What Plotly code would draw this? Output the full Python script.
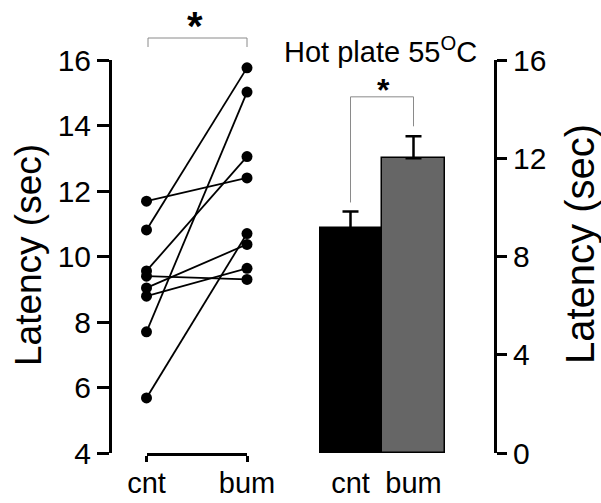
import plotly.graph_objects as go

# ---- data ----
groups = ["cnt", "bum"]
cnt_vals = [11.69, 10.81, 9.56, 9.40, 9.04, 8.79, 7.70, 5.68]
bum_vals = [12.40, 15.76, 13.05, 9.30, 10.37, 9.64, 15.02, 10.70]
bar_means = [9.15, 12.0]
bar_err = [0.68, 0.90]
bar_colors = ["#000000", "#666666"]
left_ticks = [4, 6, 8, 10, 12, 14, 16]
right_ticks = [0, 4, 8, 12, 16]

W, H = 601, 503
def px(x):
    return x / W
def py(y):
    return 1 - y / H

FONT = "Arial, Liberation Sans, sans-serif"
ydom = [py(453), py(60)]

fig = go.Figure()

# paired lines
lx, ly = [], []
for c, b in zip(cnt_vals, bum_vals):
    lx += [0, 1, None]
    ly += [c, b, None]
fig.add_trace(go.Scatter(x=lx, y=ly, mode="lines+markers", xaxis="x", yaxis="y",
                         line=dict(color="black", width=1.8),
                         marker=dict(color="black", size=11),
                         cliponaxis=False, showlegend=False, hoverinfo="skip"))

fig.add_trace(go.Bar(x=[0, 1], y=bar_means, xaxis="x2", yaxis="y2",
                     marker=dict(color=bar_colors, line=dict(color="black", width=1.5)),
                     error_y=dict(type="data", symmetric=False, array=bar_err,
                                  arrayminus=[0, 0], color="black", thickness=2.5, width=8),
                     showlegend=False, hoverinfo="skip"))

fig.update_layout(
    width=W, height=H,
    margin=dict(l=0, r=0, t=0, b=0),
    paper_bgcolor="white", plot_bgcolor="white",
    font=dict(family=FONT, color="black"),
    bargap=0,
    xaxis=dict(domain=[px(146.5), px(247)], range=[0, 1], anchor="y",
               tickvals=[0, 1], ticktext=groups, showline=True, linecolor="black",
               linewidth=3, ticks="outside", ticklen=6, tickwidth=3, tickcolor="black",
               ticklabelstandoff=-4,
               showgrid=False, zeroline=False, tickfont=dict(size=29), automargin=False),
    yaxis=dict(domain=ydom, range=[4, 16], anchor="free", position=px(110),
               tickvals=left_ticks, showline=True, linecolor="black", linewidth=3,
               ticks="outside", ticklen=12, tickwidth=3, tickcolor="black",
               showgrid=False, zeroline=False, tickfont=dict(size=30), automargin=False),
    xaxis2=dict(domain=[px(319), px(445)], range=[-0.5, 1.5], anchor="y2",
                tickvals=[0, 1], ticktext=groups, showline=False, ticks="",
                ticklabelstandoff=10,
                showgrid=False, zeroline=False, tickfont=dict(size=29), automargin=False),
    yaxis2=dict(domain=ydom, range=[0, 16], anchor="free", position=px(495), side="right",
                tickvals=right_ticks, showline=True, linecolor="black", linewidth=3,
                ticks="outside", ticklen=10, tickwidth=3, tickcolor="black",
                showgrid=False, zeroline=False, tickfont=dict(size=30), automargin=False),
)

gray = "#8a8a8a"
shapes = [
    # left bracket
    dict(type="path", xref="paper", yref="paper",
         path=f"M {px(148)} {py(47)} L {px(148)} {py(38)} L {px(247)} {py(38)} L {px(247)} {py(47)}",
         line=dict(color=gray, width=1)),
    # right bracket (data coords of bar panel)
    dict(type="path", xref="x2", yref="y2",
         path="M 0 10.2 L 0 14.5 L 1 14.5 L 1 13.3",
         line=dict(color=gray, width=1)),
]
fig.update_layout(shapes=shapes)

ann = [
    dict(x=px(195), y=py(26), text="<b>*</b>", font=dict(size=40)),
    dict(x=px(383), y=py(90), text="<b>*</b>", font=dict(size=32)),
    dict(x=px(380), y=py(50), text="Hot plate 55<sup>O</sup>C", font=dict(size=29)),
    dict(x=px(28), y=py(255), text="Latency (sec)", textangle=-90, font=dict(size=37)),
    dict(x=px(580), y=py(244), text="Latency (sec)", textangle=-90, font=dict(size=40)),
]
for a in ann:
    a.update(xref="paper", yref="paper", xanchor="center", yanchor="middle", showarrow=False)
fig.update_layout(annotations=ann)

fig.write_html("out.html", config={"displayModeBar": False},
               post_script="document.body.style.margin='0px';document.body.style.padding='0px';document.body.style.overflow='hidden';")
